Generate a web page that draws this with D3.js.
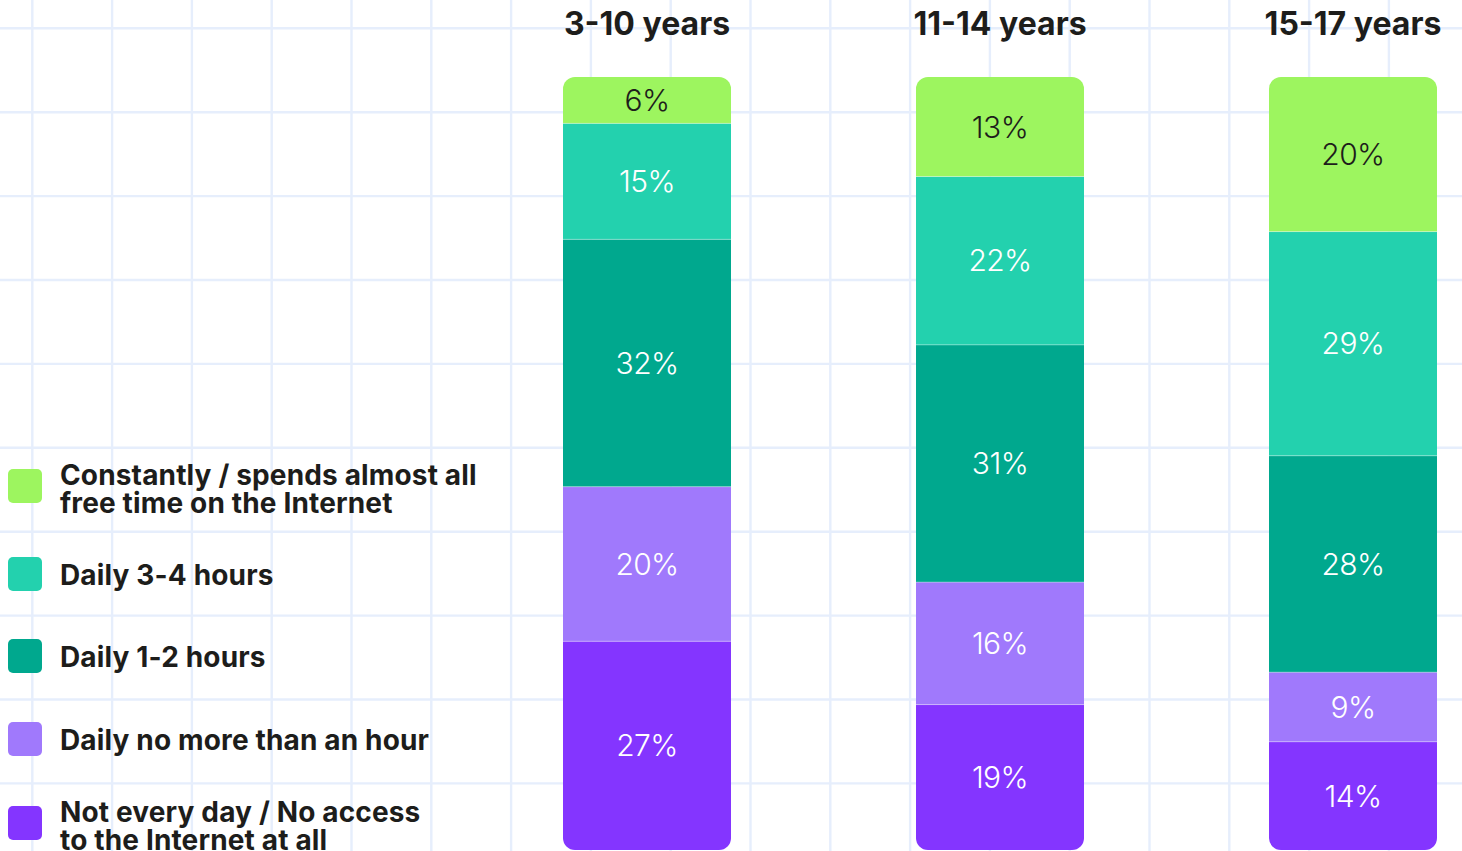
<!DOCTYPE html>
<html>
<head>
<meta charset="utf-8">
<script src="https://cdn.jsdelivr.net/npm/d3@7"></script>
<style>
  html, body { margin: 0; padding: 0; background: #ffffff; }
  svg { display: block; }
</style>
</head>
<body>
<svg id="chart" width="1462" height="851"></svg>
<script>
// Age groups (one stacked bar each)
const ageGroups = ["3-10 years", "11-14 years", "15-17 years"];

// Time-online categories, listed top of bar first
const categories = [
  "Constantly / spends almost all free time on the Internet",
  "Daily 3-4 hours",
  "Daily 1-2 hours",
  "Daily no more than an hour",
  "Not every day / No access to the Internet at all"
];

// Legend text split into display lines
const legendLines = [
  ["Constantly / spends almost all", "free time on the Internet"],
  ["Daily 3-4 hours"],
  ["Daily 1-2 hours"],
  ["Daily no more than an hour"],
  ["Not every day / No access", "to the Internet at all"]
];

// Share of children (%) per category, in age-group order
const constantly   = [6, 13, 20];
const daily3to4    = [15, 22, 29];
const daily1to2    = [32, 31, 28];
const dailyUnder1h = [20, 16, 9];
const notEveryDay  = [27, 19, 14];

const colors = ["#9df55f", "#23d1ae", "#00a88e", "#a079fc", "#8435ff"];
const labelColors = ["#1d1d1b", "#ffffff", "#ffffff", "#ffffff", "#ffffff"];

const seriesValues = [constantly, daily3to4, daily1to2, dailyUnder1h, notEveryDay];

const W = 1462, H = 851;
const svg = d3.select("#chart");

// ---- background grid ----
const gridX = d3.range(32.3, W, 79.8);
const gridY = d3.range(28.3, H, 83.9);
const grid = svg.append("g").attr("stroke", "#e6eefc").attr("stroke-width", 2.4);
grid.selectAll("line.v").data(gridX).join("line")
  .attr("class", "v").attr("x1", d => d).attr("x2", d => d).attr("y1", 0).attr("y2", H);
grid.selectAll("line.h").data(gridY).join("line")
  .attr("class", "h").attr("y1", d => d).attr("y2", d => d).attr("x1", 0).attr("x2", W);

// ---- data table ----
const table = ageGroups.map((g, i) => {
  const row = { group: g };
  categories.forEach((c, k) => { row[c] = seriesValues[k][i]; });
  return row;
});

// stack from bottom (last category) to top (first category), each bar normalised to full height
const stackOrder = categories.slice().reverse();
const stacked = d3.stack().keys(stackOrder).offset(d3.stackOffsetExpand)(table);

const x = d3.scaleBand().domain(ageGroups).range([563, 1437]).paddingInner(0.524).paddingOuter(0);
const y = d3.scaleLinear().domain([0, 1]).range([850, 77]);

const color = d3.scaleOrdinal().domain(categories).range(colors);
const labelColor = d3.scaleOrdinal().domain(categories).range(labelColors);

// clip each bar to a rounded rectangle
const defs = svg.append("defs");
ageGroups.forEach((g, i) => {
  defs.append("clipPath").attr("id", "bar-clip-" + i)
    .append("rect")
    .attr("x", x(g)).attr("y", y(1))
    .attr("width", x.bandwidth()).attr("height", y(0) - y(1))
    .attr("rx", 12).attr("ry", 12);
});

const bars = svg.append("g");
ageGroups.forEach((g, i) => {
  const bar = bars.append("g").attr("clip-path", `url(#bar-clip-${i})`);
  stacked.forEach(layer => {
    const d = layer[i];
    bar.append("rect")
      .attr("x", x(g))
      .attr("y", y(d[1]))
      .attr("width", x.bandwidth())
      .attr("height", y(d[0]) - y(d[1]))
      .attr("fill", color(layer.key));
  });
  // faint separators between segments
  stacked.slice(0, -1).forEach(layer => {
    const d = layer[i];
    bar.append("line")
      .attr("x1", x(g)).attr("x2", x(g) + x.bandwidth())
      .attr("y1", y(d[1])).attr("y2", y(d[1]))
      .attr("stroke", "rgba(255,255,255,0.35)").attr("stroke-width", 1);
  });
});

// value labels
const labels = svg.append("g")
  .attr("font-family", "Inter, 'Noto Sans', sans-serif")
  .attr("font-weight", 300)
  .attr("font-size", 30)
  .attr("text-anchor", "middle");
stacked.forEach(layer => {
  layer.forEach((d, i) => {
    labels.append("text")
      .attr("x", x(ageGroups[i]) + x.bandwidth() / 2)
      .attr("y", (y(d[0]) + y(d[1])) / 2)
      .attr("dy", "0.36em")
      .attr("letter-spacing", -0.6)
      .attr("fill", labelColor(layer.key))
      .text(d.data[layer.key] + "%");
  });
});

// group titles
svg.append("g")
  .attr("font-family", "Inter, 'Noto Sans', sans-serif")
  .attr("font-weight", 700)
  .attr("font-size", 32)
  .attr("fill", "#1d1d1b")
  .attr("text-anchor", "middle")
  .selectAll("text").data(ageGroups).join("text")
  .attr("x", d => x(d) + x.bandwidth() / 2)
  .attr("y", 35)
  .text(d => d);

// legend
const legendY = [486, 574, 656, 739, 823];
const legend = svg.append("g")
  .attr("font-family", "Inter, 'Noto Sans', sans-serif")
  .attr("font-weight", 700)
  .attr("font-size", 28)
  .attr("fill", "#1d1d1b");
categories.forEach((c, k) => {
  const item = legend.append("g").attr("transform", `translate(0,${legendY[k]})`);
  item.append("rect")
    .attr("x", 8).attr("y", -17).attr("width", 34).attr("height", 34)
    .attr("rx", 5).attr("fill", color(c));
  const lines = legendLines[k];
  const first = lines.length === 1 ? 10.5 : -1.5;
  lines.forEach((t, j) => {
    item.append("text")
      .attr("x", 60)
      .attr("y", first + j * 28.5)
      .attr("letter-spacing", 0.15)
      .text(t);
  });
});
</script>
</body>
</html>
